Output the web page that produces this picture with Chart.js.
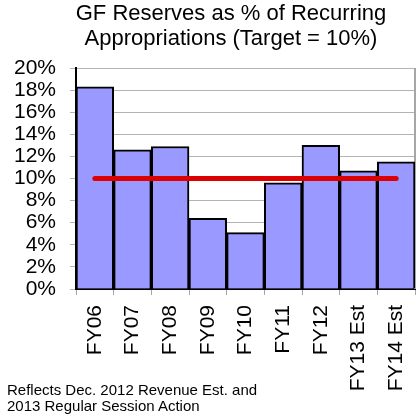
<!DOCTYPE html>
<html>
<head>
<meta charset="utf-8">
<script src="https://cdn.jsdelivr.net/npm/chart.js@4/dist/chart.umd.min.js"></script>
<style>
  body { margin: 0; background: #fff; }
  #wrap { position: relative; width: 417px; height: 417px; }
  #title {
    position: absolute; left: 0; top: 0; width: 462px; text-align: center;
    font: 22px "Liberation Sans", Arial, sans-serif; line-height: 25px; color: #000;
  }
  #note {
    position: absolute; left: 7px; top: 382px;
    font: 15px "Liberation Sans", Arial, sans-serif; line-height: 16px; color: #000;
  }
</style>
</head>
<body>
<div id="wrap">
  <canvas id="chart" width="417" height="417"></canvas>
  <div id="title">GF Reserves as % of Recurring<br>Appropriations (Target = 10%)</div>
  <div id="note">Reflects Dec. 2012 Revenue Est. and<br>2013 Regular Session Action</div>
</div>
<script>
// data
const categories = ['FY06', 'FY07', 'FY08', 'FY09', 'FY10', 'FY11', 'FY12', 'FY13 Est', 'FY14 Est'];
const reserves = [18.3, 12.6, 12.9, 6.4, 5.1, 9.6, 13.0, 10.7, 11.5];
const target = [10, 10, 10, 10, 10, 10, 10, 10, 10];
const yTicks = [0, 2, 4, 6, 8, 10, 12, 14, 16, 18, 20];

const font = { family: '"Liberation Sans", Arial, sans-serif', size: 21 };

// grey frame on the right side of the plot area
const frame = {
    id: 'frame',
    beforeDatasetsDraw(chart) {
        const { ctx, chartArea: a } = chart;
        ctx.save();
        ctx.strokeStyle = '#a6a6a6';
        ctx.lineWidth = 2;
        ctx.beginPath();
        ctx.moveTo(a.right, a.top);
        ctx.lineTo(a.right, a.bottom);
        ctx.stroke();
        ctx.restore();
    }
};

new Chart(document.getElementById('chart'), {
    type: 'bar',
    data: {
        labels: categories,
        datasets: [{
            type: 'line',
            data: target,
            borderColor: '#dd0000',
            borderWidth: 5,
            borderCapStyle: 'round',
            pointRadius: 0,
            order: 0
        }, {
            data: reserves,
            backgroundColor: '#9999ff',
            borderColor: '#000',
            borderWidth: 2,
            barPercentage: 1,
            categoryPercentage: 1,
            order: 1
        }]
    },
    options: {
        responsive: false,
        animation: false,
        layout: { padding: { top: 68, right: 2, left: 0, bottom: 0 } },
        plugins: {
            legend: { display: false },
            tooltip: { enabled: false }
        },
        scales: {
            x: {
                grid: {
                    drawOnChartArea: false, // only the small ticks under the axis
                    tickLength: 6,
                    color: '#a6a6a6'
                },
                border: { color: '#000', width: 2 },
                ticks: {
                    color: '#000',
                    font: font,
                    minRotation: 90,
                    maxRotation: 90,
                    padding: 10,
                    autoSkip: false
                },
                afterFit(scale) {
                    scale.height = 128;
                    scale.paddingLeft = 0;
                    scale.paddingRight = 0;
                }
            },
            y: {
                min: 0,
                max: 20,
                grid: { color: '#b4b4b4', tickLength: 6 },
                border: { color: '#000', width: 2 },
                afterBuildTicks(scale) { scale.ticks = yTicks.map(v => ({ value: v })); },
                ticks: {
                    color: '#000',
                    font: font,
                    padding: 14,
                    autoSkip: false,
                    callback: v => v + '%'
                },
                afterFit(scale) { scale.width = 76; }
            }
        }
    },
    plugins: [frame]
});
</script>
</body>
</html>
